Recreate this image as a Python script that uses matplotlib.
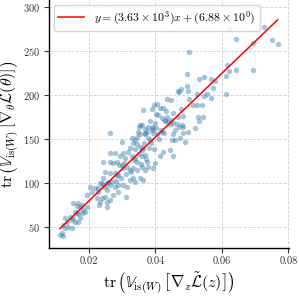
import matplotlib
matplotlib.use('Agg')
import matplotlib.pyplot as plt
import numpy as np

plt.rcParams['font.family'] = 'serif'
plt.rcParams['font.serif'] = ['cmr10']
plt.rcParams['mathtext.fontset'] = 'cm'
plt.rcParams['axes.formatter.use_mathtext'] = True

# points (x: estimator trace, y: gradient trace)
x_vals = [
    0.0621, 0.0726, 0.0642, 0.0750, 0.0768, 0.0693, 0.0501, 0.0615, 0.0621, 0.0642,
    0.0693, 0.0495, 0.0531, 0.0546, 0.0567, 0.0579, 0.0612, 0.0573, 0.0495, 0.0468,
    0.0477, 0.0471, 0.0498, 0.0525, 0.0546, 0.0555, 0.0567, 0.0612, 0.0435, 0.0447,
    0.0501, 0.0513, 0.0525, 0.0540, 0.0477, 0.0396, 0.0405, 0.0414, 0.0423, 0.0432,
    0.0528, 0.0543, 0.0531, 0.0483, 0.0468, 0.0408, 0.0420, 0.0429, 0.0438, 0.0453,
    0.0465, 0.0471, 0.0483, 0.0489, 0.0459, 0.0450, 0.0389, 0.0359, 0.0350, 0.0299,
    0.0329, 0.0338, 0.0374, 0.0377, 0.0362, 0.0402, 0.0444, 0.0480, 0.0459, 0.0420,
    0.0426, 0.0453, 0.0483, 0.0347, 0.0353, 0.0368, 0.0392, 0.0498, 0.0519, 0.0474,
    0.0405, 0.0383, 0.0368, 0.0377, 0.0389, 0.0398, 0.0402, 0.0435, 0.0429, 0.0453,
    0.0353, 0.0392, 0.0389, 0.0368, 0.0344, 0.0263, 0.0332, 0.0344, 0.0353, 0.0359,
    0.0362, 0.0323, 0.0317, 0.0383, 0.0263, 0.0278, 0.0242, 0.0263, 0.0272, 0.0284,
    0.0293, 0.0302, 0.0308, 0.0329, 0.0338, 0.0344, 0.0359, 0.0368, 0.0374, 0.0299,
    0.0302, 0.0314, 0.0323, 0.0332, 0.0344, 0.0359, 0.0368, 0.0377, 0.0392, 0.0278,
    0.0287, 0.0332, 0.0323, 0.0338, 0.0353, 0.0362, 0.0242, 0.0257, 0.0239, 0.0248,
    0.0263, 0.0278, 0.0302, 0.0314, 0.0227, 0.0254, 0.0248, 0.0263, 0.0284, 0.0233,
    0.0242, 0.0254, 0.0269, 0.0287, 0.0203, 0.0218, 0.0209, 0.0194, 0.0227, 0.0239,
    0.0248, 0.0272, 0.0287, 0.0224, 0.0233, 0.0254, 0.0263, 0.0152, 0.0167, 0.0179,
    0.0173, 0.0182, 0.0194, 0.0188, 0.0158, 0.0164, 0.0167, 0.0179, 0.0143, 0.0149,
    0.0152, 0.0158, 0.0167, 0.0173, 0.0128, 0.0134, 0.0137, 0.0149, 0.0122, 0.0113,
    0.0122, 0.0119, 0.0128, 0.0164, 0.0311, 0.0254, 0.0230, 0.0423, 0.0444, 0.0453,
    0.0398, 0.0414, 0.0365, 0.0380, 0.0395, 0.0340, 0.0350, 0.0410, 0.0372, 0.0386,
    0.0311, 0.0326, 0.0296, 0.0281, 0.0356, 0.0417, 0.0447, 0.0290, 0.0305, 0.0335,
]
y_vals = [
    275, 277, 264, 262, 258, 259, 249, 234, 227, 228,
    228, 224, 218, 220, 218, 216, 222, 208, 210, 204,
    207, 203, 204, 201, 199, 201, 196, 201, 195, 194,
    195, 189, 189, 189, 184, 189, 190, 185, 185, 182,
    175, 175, 170, 176, 175, 177, 174, 172, 169, 168,
    167, 164, 164, 146, 149, 149, 184, 166, 163, 147,
    151, 149, 158, 151, 183, 178, 167, 166, 160, 158,
    157, 155, 157, 158, 155, 157, 157, 158, 162, 151,
    155, 170, 161, 164, 162, 168, 162, 175, 170, 180,
    166, 164, 160, 155, 152, 157, 145, 144, 141, 137,
    140, 140, 135, 149, 134, 134, 124, 124, 123, 124,
    130, 134, 128, 130, 128, 124, 130, 132, 124, 120,
    117, 118, 115, 117, 115, 118, 115, 118, 117, 111,
    109, 106, 103, 101, 106, 103, 106, 101, 100, 95,
    98, 95, 98, 95, 94, 92, 112, 111, 109, 100,
    98, 100, 101, 98, 95, 94, 89, 86, 89, 83,
    84, 86, 90, 83, 78, 78, 81, 77, 77, 75,
    72, 69, 72, 67, 67, 66, 64, 66, 61, 58,
    60, 56, 55, 60, 60, 56, 50, 49, 52, 41,
    39, 43, 49, 74, 84, 73, 75, 135, 137, 130,
    123, 131, 145, 140, 138, 139, 133, 150, 127, 145,
    110, 112, 105, 102, 121, 160, 172, 120, 122, 126,
]

slope = 3.63e3
intercept = 6.88

fig = plt.figure(figsize=(2.99, 2.99), dpi=100)
ax = fig.add_axes([0.164, 0.171, 0.803, 0.829])

ax.grid(True, linestyle='--', color='#d0d0d0', linewidth=0.6)
ax.set_axisbelow(True)
ax.scatter(x_vals, y_vals, s=15, color='#3a7cab', alpha=0.45, linewidths=0)

xs = np.array([min(x_vals), max(x_vals)])
ax.plot(xs, slope * xs + intercept, color='red', linewidth=1.1,
        label=r'$y = (3.63 \times 10^{3})x + (6.88 \times 10^{0})$')

ax.set_xlim(0.008, 0.0802)
ax.set_ylim(26, 308)
ax.set_xticks([0.02, 0.04, 0.06, 0.08])
ax.set_xticklabels(['0.02', '0.04', '0.06', '0.08'])
ax.set_yticks([50, 100, 150, 200, 250, 300])
ax.tick_params(labelsize=7.5, length=3.5, width=0.8, colors='#333333', pad=3)
for s in ['top', 'right']:
    ax.spines[s].set_visible(False)
for s in ['left', 'bottom']:
    ax.spines[s].set_linewidth(1.0)

ax.set_xlabel(r'$\mathrm{tr}\,\left(\mathbb{V}_{\mathrm{is}(W)}\,\left[\nabla_z \tilde{\mathcal{L}}(z)\right]\right)$',
              fontsize=11.5, labelpad=3)
ax.set_ylabel(r'$\mathrm{tr}\,\left(\mathbb{V}_{\mathrm{is}(W)}\,\left[\nabla_\theta \mathcal{L}(\theta)\right]\right)$',
              fontsize=11.5, labelpad=1)

ax.legend(loc='upper left', fontsize=8.5, frameon=True, fancybox=True,
          edgecolor='#cccccc', borderpad=0.4, handlelength=2.2,
          borderaxespad=0.4)

fig.savefig('out.png', dpi=100)
